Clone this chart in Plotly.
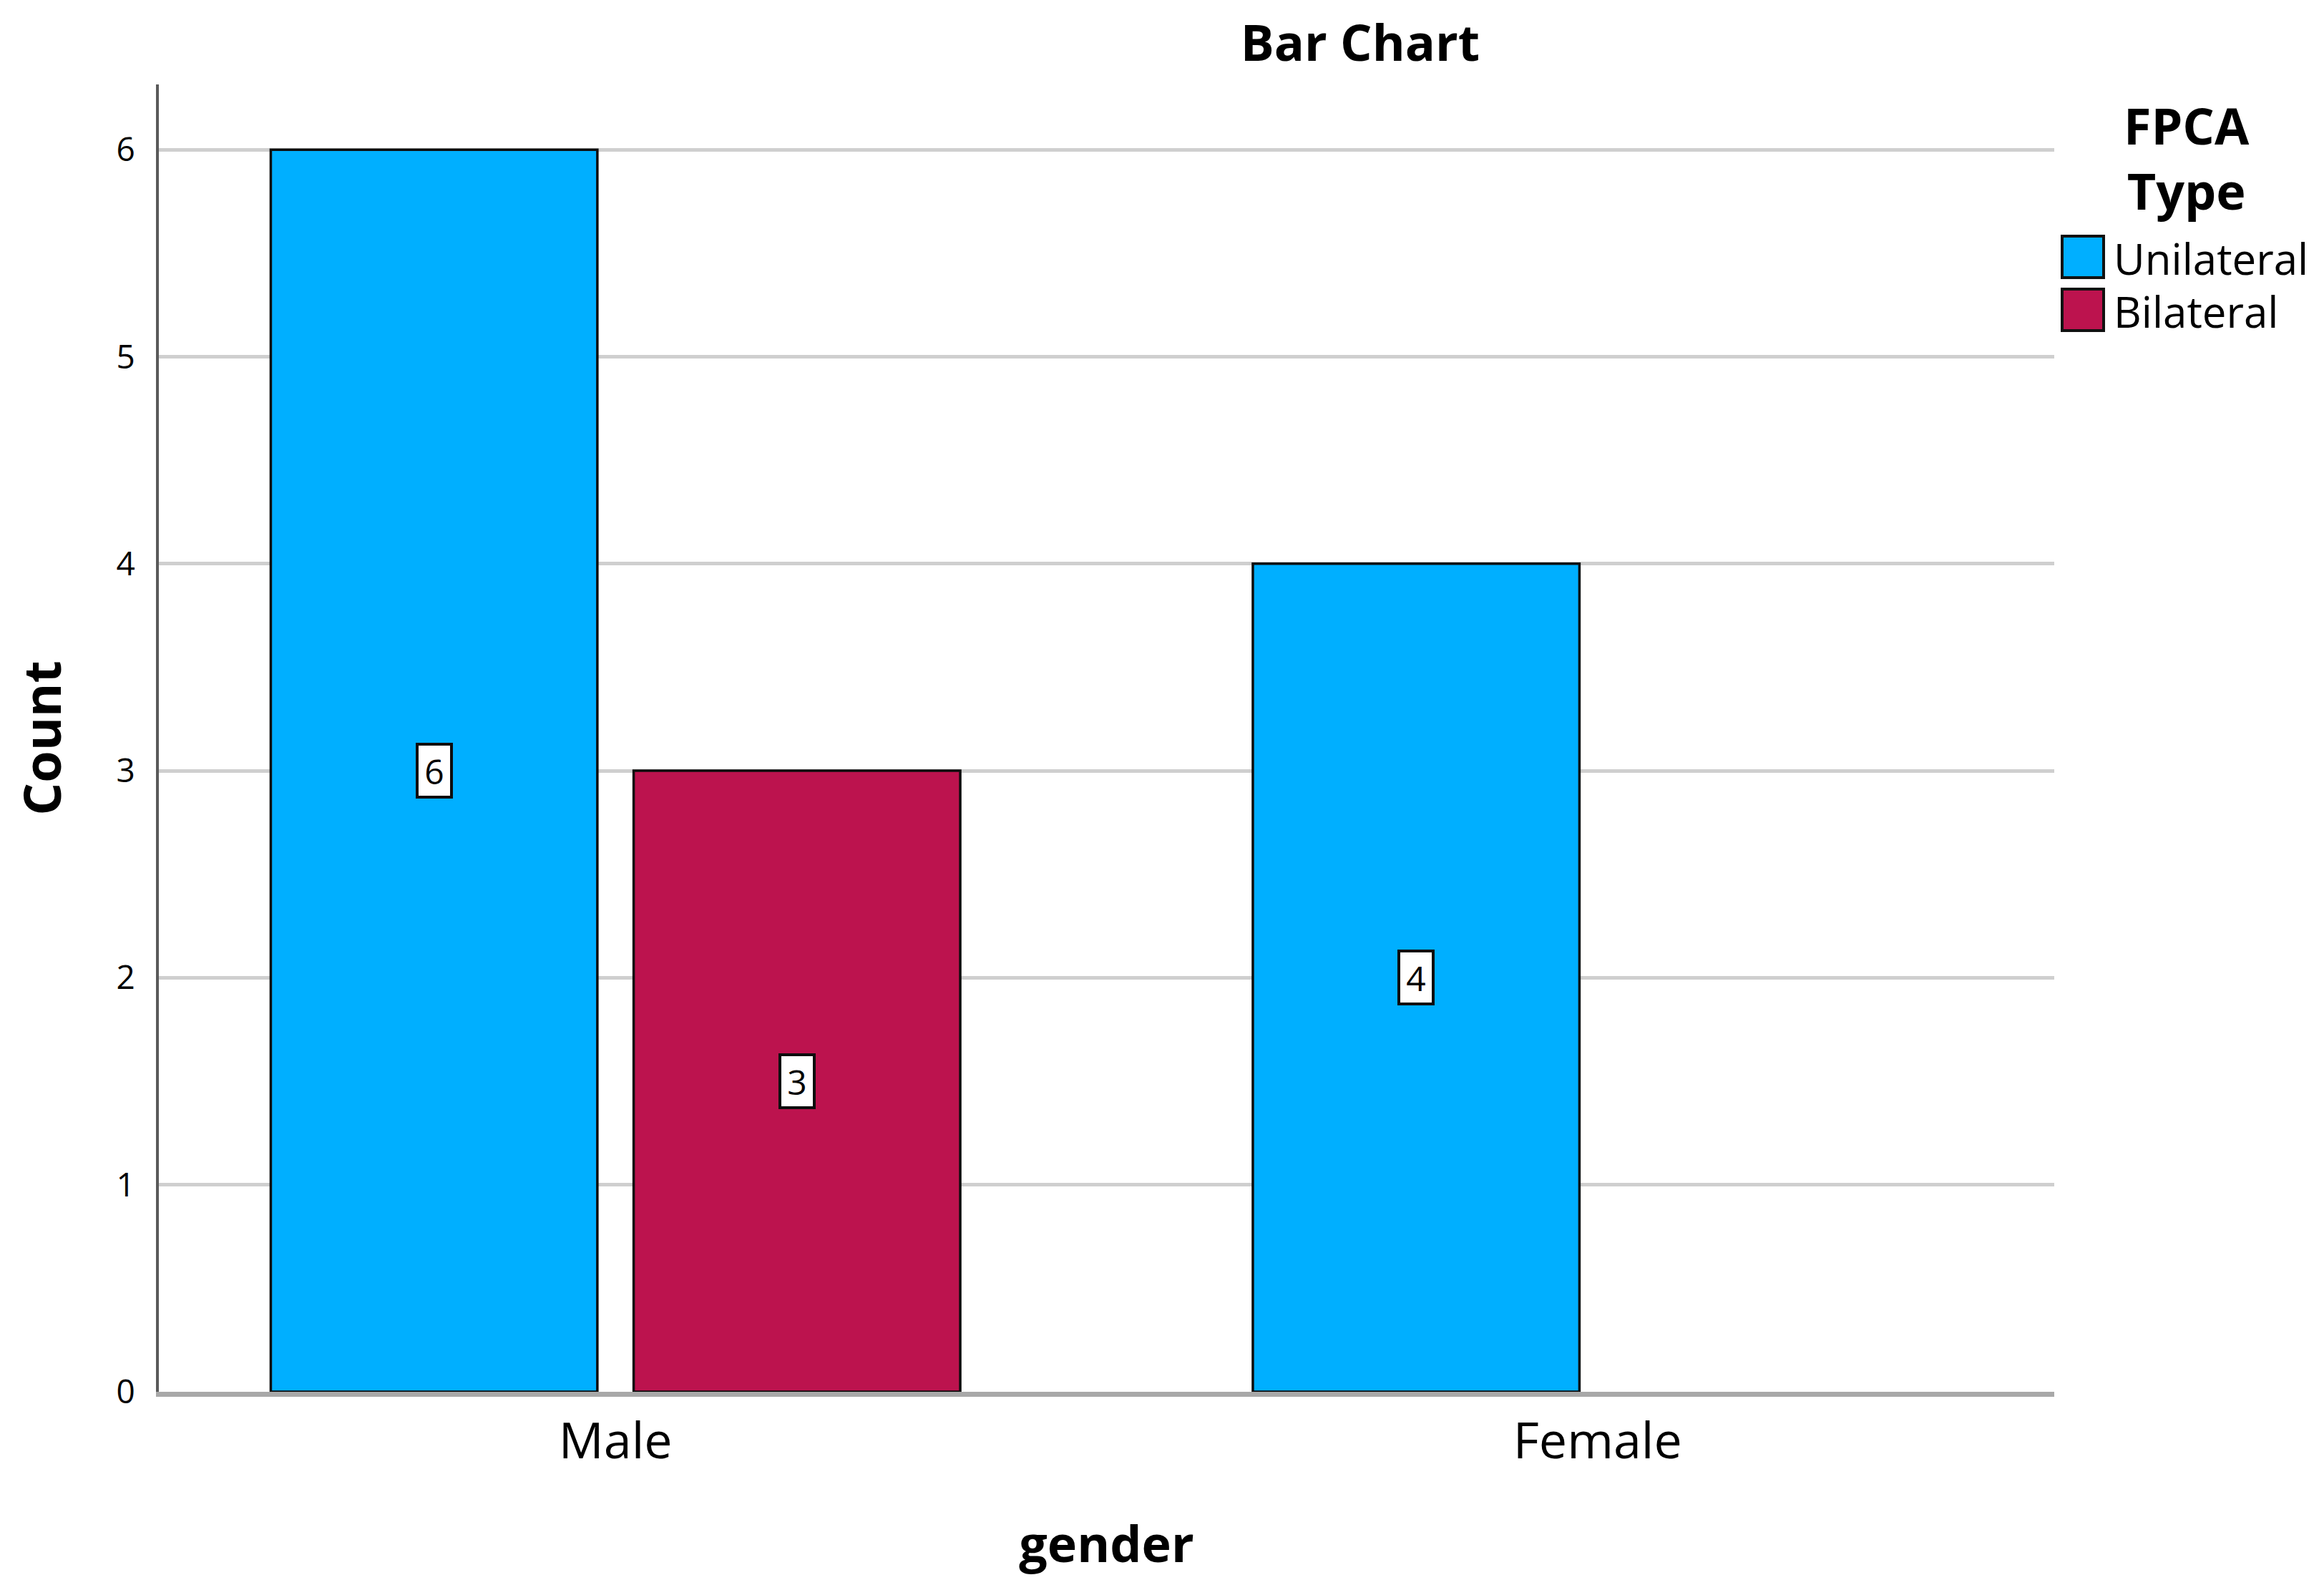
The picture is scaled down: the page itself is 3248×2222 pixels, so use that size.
import plotly.graph_objects as go

# ---- data ----
categories = ["Male", "Female"]
series_names = ["Unilateral", "Bilateral"]
unilateral = [6, 4]
bilateral = [3, None]
y_ticks = [0, 1, 2, 3, 4, 5, 6]
legend_title = "FPCA<br>Type"

colors = ["#00AFFF", "#BC134E"]
FONT = "Open Sans"
BARGAP = 0.261
BARGROUPGAP = 0.10

W, H = 3248, 2222
PAGE_OFF = 8  # default body margin of the html page
PL, PR, PT, PB = 222, 2871, 118, 1945  # desired plot-area edges on screen


def px_x(x):
    return (x - PL) / (PR - PL)


def px_y(y):
    return (PB - y) / (PB - PT)


series_values = [unilateral, bilateral]

fig = go.Figure()
for name, vals, col in zip(series_names, series_values, colors):
    fig.add_trace(go.Bar(
        x=categories, y=vals, name=name,
        marker=dict(color=col, line=dict(color="#0d0d0d", width=3.5)),
        showlegend=False,
    ))

# value labels in white boxes at bar middles
n_series = len(series_names)
slot = (1 - BARGAP) / n_series
for si, vals in enumerate(series_values):
    offset = (si - (n_series - 1) / 2) * slot
    for ci, v in enumerate(vals):
        if v is None:
            continue
        fig.add_annotation(
            x=ci + offset, y=v / 2, xref="x", yref="y",
            text=str(v), showarrow=False,
            font=dict(family=FONT, size=48, color="black"),
            bgcolor="white", bordercolor="#0d0d0d", borderwidth=4,
            width=42, height=68, borderpad=1,
        )

# custom legend (large swatches)
fig.add_annotation(
    x=px_x(3056), y=px_y(221), xref="paper", yref="paper",
    xanchor="center", yanchor="middle",
    text=legend_title, showarrow=False, align="center",
    font=dict(family=FONT, size=70, color="black", weight="bold"),
)
leg_top = [330, 404]
for i, (name, col) in enumerate(zip(series_names, colors)):
    top, bot = leg_top[i], leg_top[i] + 58
    fig.add_shape(type="rect", xref="paper", yref="paper",
                  x0=px_x(2882), x1=px_x(2940), y0=px_y(bot), y1=px_y(top),
                  fillcolor=col, line=dict(color="#111111", width=4))
    fig.add_annotation(
        x=px_x(2952), y=px_y((top + bot) / 2 + 2), xref="paper", yref="paper",
        xanchor="left", yanchor="middle", text=name, showarrow=False,
        font=dict(family=FONT, size=60, color="black"),
    )

fig.update_layout(
    width=W, height=H,
    paper_bgcolor="white", plot_bgcolor="white",
    margin=dict(l=PL - PAGE_OFF, r=W - PR + PAGE_OFF,
                t=PT - PAGE_OFF, b=H - PB + PAGE_OFF),
    barmode="group", bargap=BARGAP, bargroupgap=BARGROUPGAP,
    title=dict(text="Bar Chart", x=(1901 - PAGE_OFF) / W, xanchor="center",
               y=1 - (60 - PAGE_OFF) / H, yanchor="middle", yref="container",
               font=dict(family=FONT, size=70, color="black", weight="bold")),
    font=dict(family=FONT, color="black"),
)
fig.update_xaxes(
    type="category", range=[-0.465, 1.465],
    showline=True, linecolor="#a8a8a8", linewidth=7,
    showgrid=False, ticks="", ticklabelstandoff=2,
    tickfont=dict(family=FONT, size=70, color="black"),
    title=dict(text="gender", standoff=78,
               font=dict(family=FONT, size=70, color="black", weight="bold")),
)
fig.update_yaxes(
    range=[0, 6.315], tickvals=y_ticks, ticks="",
    showline=True, linecolor="#5a5a5a", linewidth=4,
    showgrid=True, gridcolor="#cfcfcf", gridwidth=5, zeroline=False,
    ticklabelstandoff=20,
    tickfont=dict(family=FONT, size=46, color="black"),
    title=dict(text="Count", standoff=54,
               font=dict(family=FONT, size=72, color="black", weight="bold")),
)

fig.write_html("out.html")
